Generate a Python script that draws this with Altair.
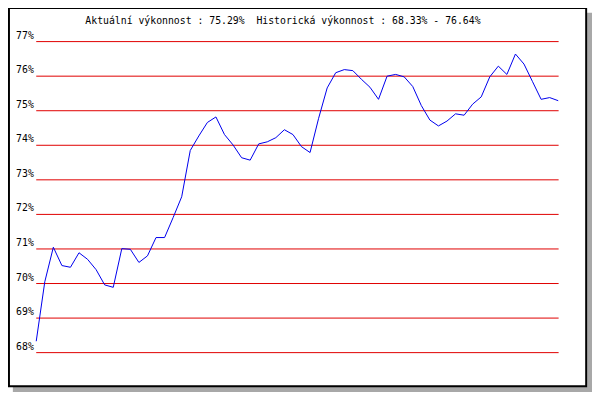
import altair as alt
import pandas as pd

# ---- data ----
values = [68.33, 70.05, 71.05, 70.52, 70.47, 70.89, 70.70, 70.40, 69.96, 69.89,
          71.01, 70.99, 70.61, 70.80, 71.33, 71.33, 71.91, 72.51, 73.85, 74.27,
          74.66, 74.82, 74.31, 74.01, 73.64, 73.57, 74.04, 74.10, 74.22, 74.45,
          74.31, 73.96, 73.79, 74.78, 75.66, 76.10, 76.19, 76.16, 75.91, 75.68,
          75.33, 76.00, 76.05, 75.98, 75.70, 75.15, 74.73, 74.56, 74.70, 74.91,
          74.87, 75.19, 75.40, 75.98, 76.29, 76.05, 76.64, 76.35, 75.84, 75.33,
          75.38, 75.29]
grid_levels = [68, 69, 70, 71, 72, 73, 74, 75, 76, 77]
grid_labels = [f"{g}%" for g in grid_levels]
title_text = "Aktuální výkonnost : 75.29%\u00a0 Historická výkonnost : 68.33% - 76.64%"

W, H = 584, 384
sx = W / 600.0
sy = H / 400.0

def u(x):
    return x * sx

def v(y):
    return y * sy

df = pd.DataFrame({"i": list(range(len(values))), "val": values})
gdf = pd.DataFrame({"level": grid_levels, "label": grid_labels})
one = pd.DataFrame({"a": [0]})

xscale = alt.Scale(domain=[0, len(values) - 1], range=[u(29), u(565.3)])
yscale = alt.Scale(domain=[68, 77], range=[v(359), v(35)])

shadow = alt.Chart(one).mark_rect(color="#a8a8a8").encode(
    x=alt.value(u(5)), x2=alt.value(W), y=alt.value(v(5)), y2=alt.value(H))
frame = alt.Chart(one).mark_rect(color="#000000").encode(
    x=alt.value(0), x2=alt.value(u(595)), y=alt.value(0), y2=alt.value(v(395)))
inner = alt.Chart(one).mark_rect(color="#ffffff").encode(
    x=alt.value(u(2)), x2=alt.value(u(593)), y=alt.value(1), y2=alt.value(v(393)))

grid = alt.Chart(gdf).mark_rule(color="#e00000", strokeWidth=1).encode(
    y=alt.Y("level:Q", scale=yscale, axis=None),
    x=alt.value(u(29)), x2=alt.value(u(565.7)))

labels = alt.Chart(gdf).mark_text(
    align="right", baseline="alphabetic", dy=-3, font="DejaVu Sans Mono",
    fontSize=9.8, color="#000000").encode(
    y=alt.Y("level:Q", scale=yscale, axis=None),
    x=alt.value(u(26.5)), text="label:N")

line = alt.Chart(df).mark_line(color="#0000ee", strokeWidth=1).encode(
    x=alt.X("i:Q", scale=xscale, axis=None),
    y=alt.Y("val:Q", scale=yscale, axis=None))

title = alt.Chart(one).mark_text(
    text=title_text, align="center", baseline="alphabetic",
    font="DejaVu Sans Mono", fontSize=9.8, color="#000000").encode(
    x=alt.value(u(282.5)), y=alt.value(v(17)))

chart = alt.layer(shadow, frame, inner, grid, labels, line, title).properties(
    width=W, height=H, autosize=alt.AutoSizeParams(type="none"), padding=0
).configure_view(strokeWidth=0).resolve_scale(y="shared")

chart.save("out.html", embed_options={"renderer": "svg", "actions": False})
